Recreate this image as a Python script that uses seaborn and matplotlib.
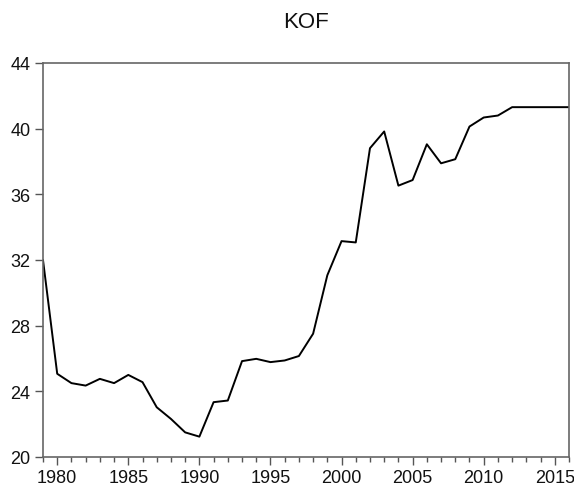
import matplotlib
matplotlib.use("Agg")
import matplotlib.pyplot as plt
from matplotlib.ticker import MultipleLocator
import pandas as pd
import seaborn as sns

years = list(range(1979, 2017))
kof = [32.0, 25.07, 24.5, 24.35, 24.76, 24.5, 25.0, 24.56, 23.03, 22.32,
       21.5, 21.24, 23.34, 23.44, 25.84, 25.98, 25.78, 25.88, 26.15, 27.51,
       31.07, 33.15, 33.07, 38.81, 39.83, 36.53, 36.87, 39.05, 37.89, 38.14,
       40.13, 40.68, 40.8, 41.31, 41.31, 41.31, 41.31, 41.31]

df = pd.DataFrame({"year": years, "KOF": kof})

sns.set_style("ticks")
plt.rcParams["font.family"] = ["Liberation Sans", "DejaVu Sans"]

fig = plt.figure(figsize=(5.74, 4.89), dpi=100)
# plot area: x 43..569 px, y 64..458 px
ax = fig.add_axes([43 / 574, 31 / 489, 526 / 574, 394 / 489])
sns.lineplot(data=df, x="year", y="KOF", color="black", linewidth=1.4, ax=ax)

ax.set_xlim(1979, 2016)
ax.set_ylim(20, 44)
ax.set_yticks([20, 24, 28, 32, 36, 40, 44])
ax.set_xticks([1980, 1985, 1990, 1995, 2000, 2005, 2010, 2015])
ax.xaxis.set_minor_locator(MultipleLocator(1))
ax.tick_params(axis="both", which="major", length=6, width=1, color="#555555",
               labelsize=13, labelcolor="#111111", pad=3)
ax.tick_params(axis="x", which="minor", length=3.5, width=1, color="#555555")
for sp in ax.spines.values():
    sp.set_visible(True)
    sp.set_color("#666666")
    sp.set_linewidth(1.2)
ax.set_xlabel("")
ax.set_ylabel("")
fig.text(306 / 574, 1 - 23 / 489, "KOF", ha="center", va="center",
         fontsize=16, color="#111111")

fig.savefig("out.png", dpi=100)
plt.close(fig)
